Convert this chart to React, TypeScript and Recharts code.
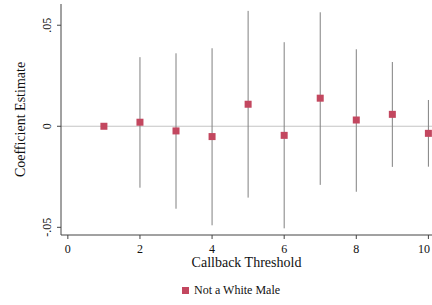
import React from "react";
import {
  ComposedChart,
  Scatter,
  XAxis,
  YAxis,
  ReferenceLine,
  ErrorBar,
  Legend,
} from "recharts";

const thresholds = [1, 2, 3, 4, 5, 6, 7, 8, 9, 10];
const estimates = [0, 0.002, -0.0023, -0.0051, 0.0109, -0.0045, 0.0139, 0.0031, 0.0059, -0.0035];
const lowerCI = [0, -0.0304, -0.0408, -0.049, -0.0353, -0.0505, -0.029, -0.0324, -0.0201, -0.02];
const upperCI = [0, 0.0342, 0.0361, 0.0386, 0.0571, 0.0416, 0.0564, 0.0381, 0.0318, 0.013];
const xTicks = [0, 2, 4, 6, 8, 10];
const yTicks = [-0.05, 0, 0.05];
const seriesName = "Not a White Male";

const data = thresholds.map((t, i) => ({
  x: t,
  y: estimates[i],
  err: [estimates[i] - lowerCI[i], upperCI[i] - estimates[i]],
}));

const FONT = "'Liberation Serif', 'DejaVu Serif', serif";
const MARKER = "#c3475f";

const fmtY = (v: number) => {
  if (v === 0) return "0";
  const s = v.toFixed(2);
  return s.replace("0.", ".");
};

const YTick = (props: any) => {
  const { y, payload } = props;
  return (
    <text
      transform={`translate(51,${y}) rotate(-90)`}
      textAnchor="middle"
      fontFamily={FONT}
      fontSize={12}
      fill="#111"
    >
      {fmtY(payload.value)}
    </text>
  );
};

const XTick = (props: any) => {
  const { x, payload } = props;
  return (
    <text x={x} y={253} textAnchor="middle" fontFamily={FONT} fontSize={12} fill="#111">
      {payload.value}
    </text>
  );
};

const Square = (props: any) => {
  const { cx, cy } = props;
  if (cx == null || cy == null) return null;
  return <rect x={cx - 3.5} y={cy - 3.5} width={7} height={7} fill={MARKER} />;
};

const LegendContent = () => (
  <div style={{ display: "flex", alignItems: "center", fontFamily: FONT, fontSize: 12, color: "#111" }}>
    <span style={{ display: "inline-block", width: 7, height: 7, background: MARKER, marginRight: 5 }} />
    <span>{seriesName}</span>
  </div>
);

export default function App() {
  return (
    <div style={{ position: "absolute", left: 0, top: 0, width: 432, height: 305, background: "#fff", fontFamily: FONT }}>
      <ComposedChart width={432} height={305} data={data} margin={{ top: 4, right: 0, bottom: 0, left: 0 }}>
        <XAxis
          dataKey="x"
          type="number"
          domain={[-0.19, 10.1]}
          ticks={xTicks}
          allowDataOverflow
          height={70}
          stroke="#444"
          tickSize={4}
          tick={<XTick />}
          label={{
            value: "Callback Threshold",
            position: "insideTop",
            offset: 22,
            fontFamily: FONT,
            fontSize: 14,
            fill: "#111",
          }}
        />
        <YAxis
          dataKey="y"
          type="number"
          domain={[-0.0538, 0.0605]}
          ticks={yTicks}
          allowDataOverflow
          width={61}
          stroke="#444"
          tickSize={4}
          tick={<YTick />}
          label={{
            value: "Coefficient Estimate",
            angle: -90,
            position: "center",
            dx: -10,
            fontFamily: FONT,
            fontSize: 14,
            fill: "#111",
          }}
        />
        <ReferenceLine y={0} stroke="#c4c4c4" strokeWidth={1.2} />
        <Scatter name={seriesName} dataKey="y" fill={MARKER} shape={<Square />} isAnimationActive={false}>
          <ErrorBar dataKey="err" direction="y" width={0} stroke="#808080" strokeWidth={1} />
        </Scatter>
        <Legend
          layout="horizontal"
          verticalAlign="middle"
          align="center"
          content={<LegendContent />}
          wrapperStyle={{ top: 283, left: 182, width: 150 }}
        />
      </ComposedChart>
    </div>
  );
}
